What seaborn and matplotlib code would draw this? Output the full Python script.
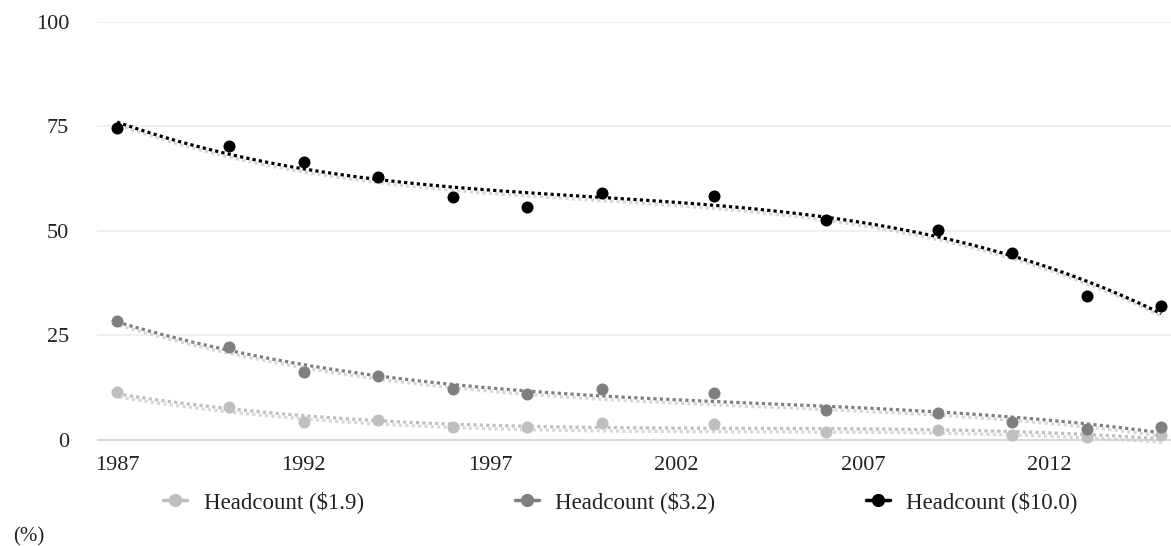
import numpy as np
import pandas as pd
import seaborn as sns
import matplotlib.pyplot as plt
import matplotlib.patheffects as pe
from matplotlib.lines import Line2D

years = [1987, 1990, 1992, 1994, 1996, 1998, 2000, 2003, 2006, 2009, 2011, 2013, 2015]
hc_19 = [11.3, 7.9, 4.3, 4.8, 3.1, 3.1, 4.1, 3.8, 1.9, 2.4, 1.2, 0.7, 1.0]
hc_32 = [28.5, 22.3, 16.3, 15.3, 12.2, 11.0, 12.2, 11.2, 7.2, 6.5, 4.3, 2.6, 3.1]
hc_100 = [74.7, 70.2, 66.4, 63.0, 58.2, 55.8, 59.0, 58.3, 52.7, 50.1, 44.6, 34.3, 31.9]

labels = ['Headcount ($1.9)', 'Headcount ($3.2)', 'Headcount ($10.0)']
colors = ['#bfbfbf', '#7f7f7f', '#000000']
series = [hc_19, hc_32, hc_100]
yticks = [0, 25, 50, 75, 100]
xticks = [1987, 1992, 1997, 2002, 2007, 2012]

sns.set_style('white')
plt.rcParams['font.family'] = ['Liberation Serif', 'DejaVu Serif']

fig = plt.figure(figsize=(11.71, 5.46), dpi=100)
ax = fig.add_axes([97 / 1171, 1 - 448 / 546, 1 - 97 / 1171, (448 - 22) / 546])

# gridlines
for t in yticks:
    ax.axhline(t, color='#d9d9d9' if t == 0 else '#efefef', lw=1.5 if t == 0 else 1.3, zorder=0)

shadow = [pe.SimpleLineShadow(offset=(1.5, -2.5), shadow_color='#cccccc', alpha=0.75), pe.Normal()]
for vals, c in zip(series, colors):
    df = pd.DataFrame({'year': years, 'value': vals})
    sns.regplot(data=df, x='year', y='value', order=3, ci=None, ax=ax,
                scatter_kws={'color': c, 's': 75, 'linewidths': 0, 'zorder': 3, 'alpha': 1},
                line_kws={'color': c, 'lw': 2.3, 'linestyle': (0, (1, 1)),
                          'dash_capstyle': 'butt', 'path_effects': shadow, 'zorder': 2})

ax.set_xlim(1986.46, 2015.26)
ax.set_ylim(-2, 100)
ax.set_xticks(xticks)
ax.set_yticks(yticks)
ax.set_xlabel('')
ax.set_ylabel('')
ax.tick_params(axis='both', length=0, labelsize=16, colors='#222222')
ax.tick_params(axis='y', pad=20)
ax.tick_params(axis='x', pad=6)
for s in ax.spines.values():
    s.set_visible(False)

handles = [Line2D([], [], color=c, marker='o', markersize=8.5, lw=2.5) for c in colors]
fig.legend(handles, labels, loc='center', bbox_to_anchor=(0.53, 0.081), ncol=3,
           frameon=False, fontsize=16.5, handlelength=1.05, columnspacing=6.6,
           handletextpad=0.7, labelcolor='#222222')
fig.text(13 / 1171, 1 - 537 / 546, '(%)', fontsize=15, color='#222222', va='center')

fig.savefig('out.png', dpi=100)
